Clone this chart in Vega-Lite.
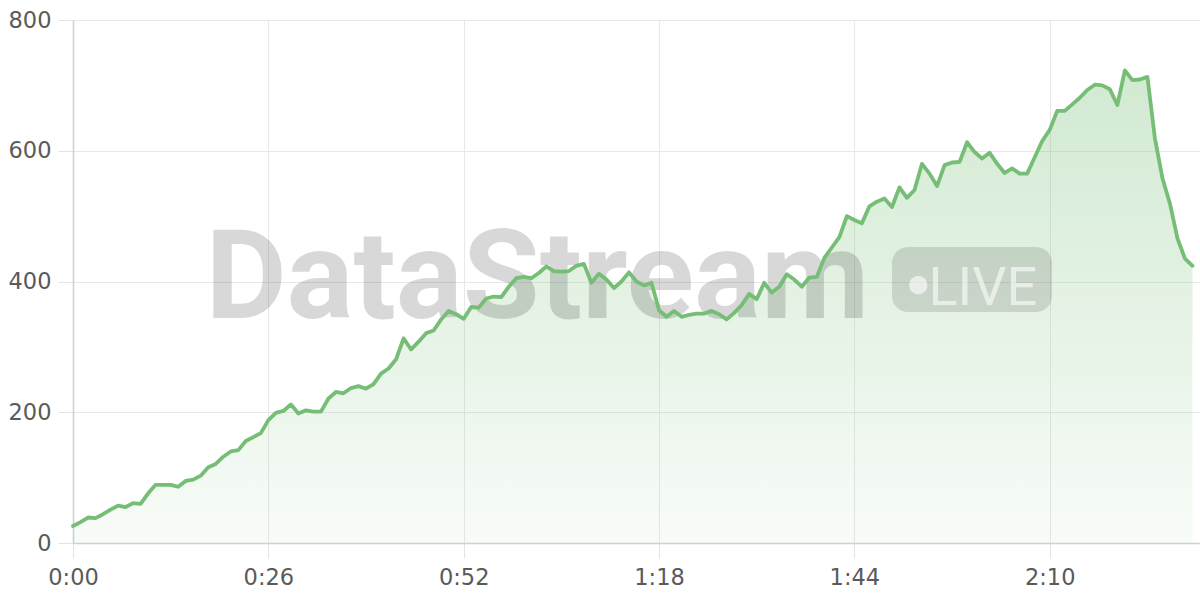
{
  "$schema": "https://vega.github.io/schema/vega-lite/v6.json",
  "width": 1127,
  "height": 523,
  "autosize": {"type": "none"},
  "padding": {"left": 73, "top": 20, "right": 0, "bottom": 57},
  "background": "#ffffff",
  "config": {
    "view": {"stroke": null},
    "axis": {
      "labelFont": "DejaVu Sans",
      "labelFontSize": 22.5,
      "labelColor": "#5a5a5a",
      "labelFlush": false,
      "gridColor": "#e8e8e8",
      "gridWidth": 1,
      "tickColor": "#e3e3e3",
      "tickSize": 15,
      "domainColor": "#d0d0d0",
      "domainWidth": 1.5,
      "title": null
    }
  },
  "data": {
    "values": [
      {"t":0,"v":26},{"t":1,"v":32},{"t":2,"v":39},{"t":3,"v":38},{"t":4,"v":44},{"t":5,"v":51},{"t":6,"v":57},{"t":7,"v":55},{"t":8,"v":61},{"t":9,"v":60},
      {"t":10,"v":76},{"t":11,"v":89},{"t":12,"v":89},{"t":13,"v":89},{"t":14,"v":86},{"t":15,"v":95},{"t":16,"v":97},{"t":17,"v":103},{"t":18,"v":116},{"t":19,"v":121},
      {"t":20,"v":132},{"t":21,"v":140},{"t":22,"v":142},{"t":23,"v":156},{"t":24,"v":162},{"t":25,"v":168},{"t":26,"v":188},{"t":27,"v":199},{"t":28,"v":202},{"t":29,"v":212},
      {"t":30,"v":198},{"t":31,"v":203},{"t":32,"v":201},{"t":33,"v":201},{"t":34,"v":221},{"t":35,"v":231},{"t":36,"v":229},{"t":37,"v":237},{"t":38,"v":240},{"t":39,"v":236},
      {"t":40,"v":243},{"t":41,"v":259},{"t":42,"v":267},{"t":43,"v":281},{"t":44,"v":313},{"t":45,"v":296},{"t":46,"v":308},{"t":47,"v":321},{"t":48,"v":325},{"t":49,"v":342},
      {"t":50,"v":355},{"t":51,"v":350},{"t":52,"v":343},{"t":53,"v":361},{"t":54,"v":360},{"t":55,"v":374},{"t":56,"v":377},{"t":57,"v":376},{"t":58,"v":392},{"t":59,"v":405},
      {"t":60,"v":407},{"t":61,"v":405},{"t":62,"v":413},{"t":63,"v":423},{"t":64,"v":416},{"t":65,"v":415},{"t":66,"v":416},{"t":67,"v":424},{"t":68,"v":427},{"t":69,"v":398},
      {"t":70,"v":412},{"t":71,"v":403},{"t":72,"v":390},{"t":73,"v":400},{"t":74,"v":414},{"t":75,"v":400},{"t":76,"v":394},{"t":77,"v":398},{"t":78,"v":356},{"t":79,"v":346},
      {"t":80,"v":355},{"t":81,"v":346},{"t":82,"v":349},{"t":83,"v":351},{"t":84,"v":351},{"t":85,"v":355},{"t":86,"v":350},{"t":87,"v":342},{"t":88,"v":352},{"t":89,"v":364},
      {"t":90,"v":381},{"t":91,"v":373},{"t":92,"v":398},{"t":93,"v":383},{"t":94,"v":392},{"t":95,"v":411},{"t":96,"v":403},{"t":97,"v":392},{"t":98,"v":406},{"t":99,"v":407},
      {"t":100,"v":436},{"t":101,"v":452},{"t":102,"v":468},{"t":103,"v":500},{"t":104,"v":494},{"t":105,"v":489},{"t":106,"v":515},{"t":107,"v":522},{"t":108,"v":527},{"t":109,"v":514},
      {"t":110,"v":544},{"t":111,"v":528},{"t":112,"v":540},{"t":113,"v":580},{"t":114,"v":565},{"t":115,"v":546},{"t":116,"v":578},{"t":117,"v":582},{"t":118,"v":583},{"t":119,"v":613},
      {"t":120,"v":598},{"t":121,"v":588},{"t":122,"v":597},{"t":123,"v":580},{"t":124,"v":566},{"t":125,"v":573},{"t":126,"v":565},{"t":127,"v":565},{"t":128,"v":590},{"t":129,"v":615},
      {"t":130,"v":632},{"t":131,"v":661},{"t":132,"v":661},{"t":133,"v":671},{"t":134,"v":681},{"t":135,"v":693},{"t":136,"v":701},{"t":137,"v":700},{"t":138,"v":694},{"t":139,"v":670},
      {"t":140,"v":723},{"t":141,"v":708},{"t":142,"v":709},{"t":143,"v":713},{"t":144,"v":619},{"t":145,"v":558},{"t":146,"v":519},{"t":147,"v":466},{"t":148,"v":435},{"t":149,"v":424}
    ]
  },
  "layer": [
    {
      "mark": {
        "type": "area",
        "color": {
          "gradient": "linear",
          "x1": 0, "y1": 0, "x2": 0, "y2": 1,
          "stops": [
            {"offset": 0, "color": "rgba(116,189,116,0.33)"},
            {"offset": 1, "color": "rgba(116,189,116,0.05)"}
          ]
        }
      },
      "encoding": {
        "x": {
          "field": "t", "type": "quantitative",
          "scale": {"domain": [0, 150], "nice": false, "zero": false},
          "axis": {
            "values": [0, 26, 52, 78, 104, 130],
            "labelExpr": "floor(datum.value/60) + ':' + (datum.value % 60 < 10 ? '0' : '') + (datum.value % 60)",
            "labelPadding": 8,
            "grid": true
          }
        },
        "y": {
          "field": "v", "type": "quantitative",
          "scale": {"domain": [0, 800], "nice": false},
          "axis": {"values": [0, 200, 400, 600, 800], "labelPadding": 7, "grid": true}
        }
      }
    },
    {
      "data": {"values": [{"label": "DataStream"}]},
      "mark": {
        "type": "text",
        "font": "Roboto",
        "fontWeight": "bold",
        "fontSize": 125,
        "align": "center",
        "baseline": "alphabetic",
        "color": "#000000",
        "opacity": 0.15
      },
      "encoding": {
        "x": {"datum": 61.8, "type": "quantitative"},
        "y": {"datum": 344, "type": "quantitative"},
        "text": {"field": "label"}
      }
    },
    {
      "data": {"values": [{}]},
      "mark": {"type": "rect", "color": "#000000", "opacity": 0.12, "cornerRadius": 16},
      "encoding": {
        "x": {"datum": 109.0, "type": "quantitative"},
        "x2": {"datum": 130.3},
        "y": {"datum": 452.7, "type": "quantitative"},
        "y2": {"datum": 353.3}
      }
    },
    {
      "data": {"values": [{}]},
      "mark": {"type": "point", "shape": "circle", "filled": true, "size": 340, "color": "#ffffff", "opacity": 0.6},
      "encoding": {
        "x": {"datum": 112.5, "type": "quantitative"},
        "y": {"datum": 394.6, "type": "quantitative"}
      }
    },
    {
      "data": {"values": [{"label": "LIVE"}]},
      "mark": {
        "type": "text",
        "font": "Roboto",
        "fontSize": 54,
        "align": "center",
        "baseline": "alphabetic",
        "color": "#ffffff",
        "opacity": 0.6
      },
      "encoding": {
        "x": {"datum": 121.1, "type": "quantitative"},
        "y": {"datum": 364, "type": "quantitative"},
        "text": {"field": "label"}
      }
    },
    {
      "mark": {"type": "line", "color": "#76bd76", "strokeWidth": 3.8, "strokeJoin": "round", "strokeCap": "round"},
      "encoding": {
        "x": {"field": "t", "type": "quantitative"},
        "y": {"field": "v", "type": "quantitative"}
      }
    }
  ]
}
